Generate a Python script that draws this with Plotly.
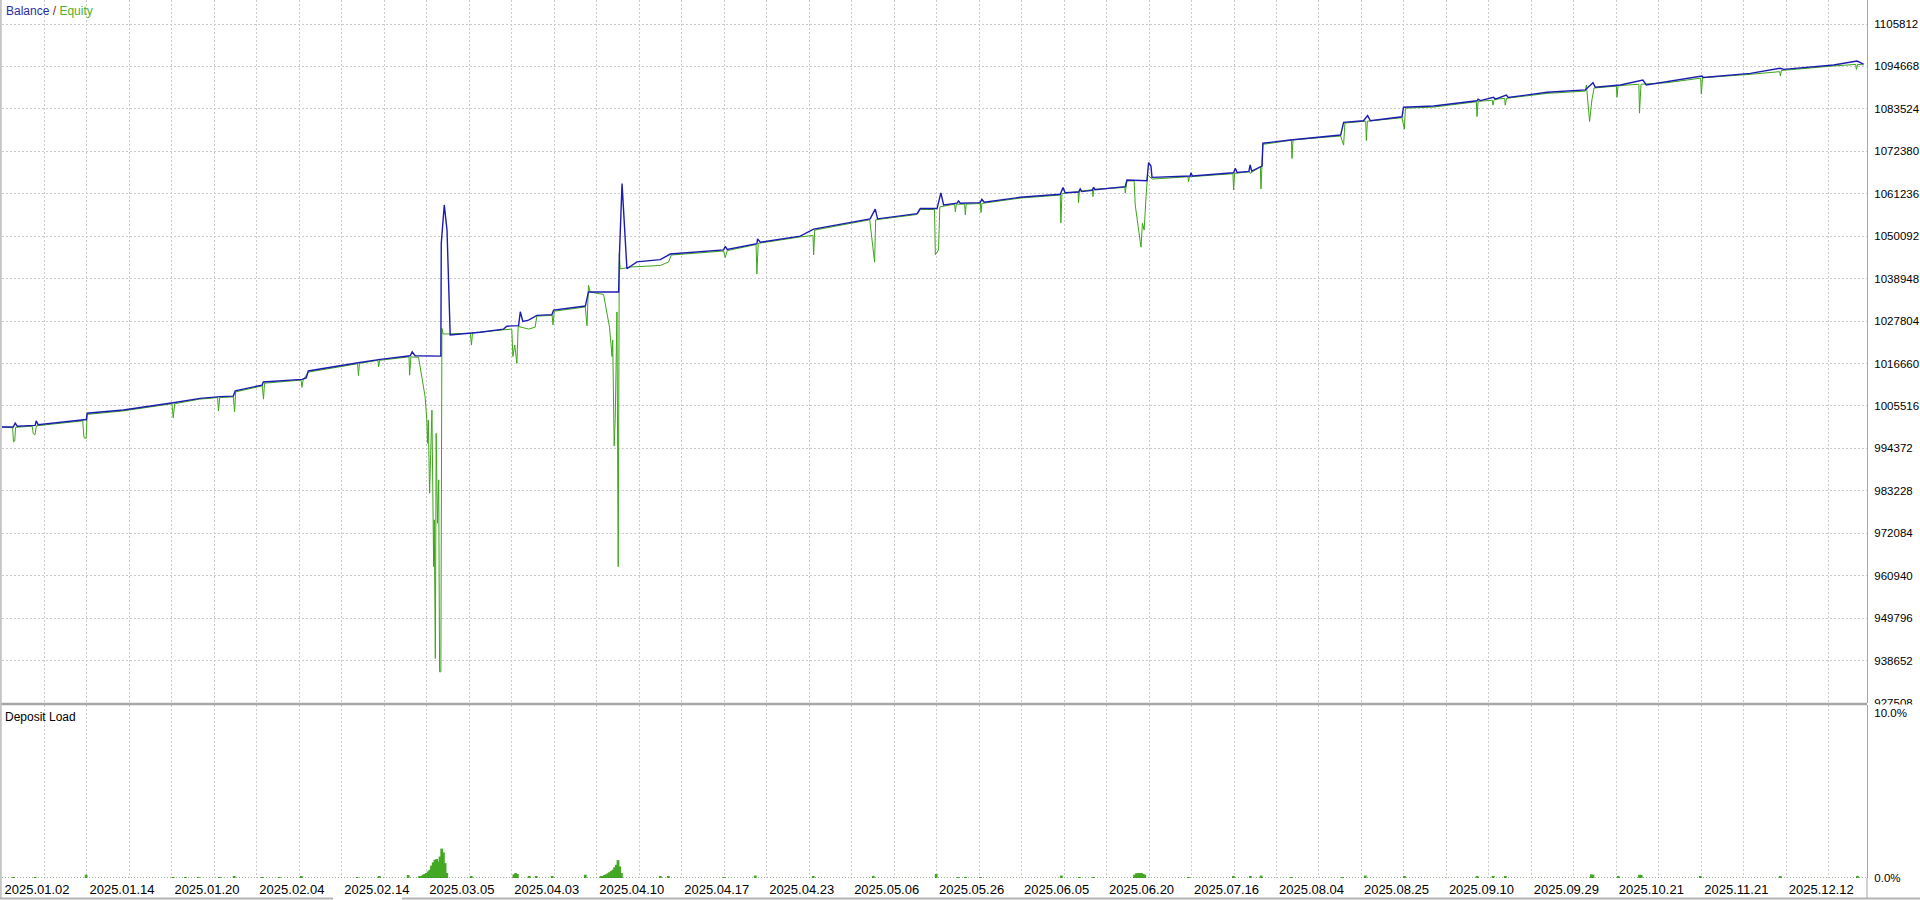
import plotly.graph_objects as go

# ---------------- data ----------------
# x axis = deal number (MT5 tester graph is deal-indexed); dates label every 40 deals
label_deals = [0, 40, 80, 120, 160, 200, 240, 280, 320, 360, 400, 440, 480, 520,
               560, 600, 640, 680, 720, 760, 800, 840]
date_labels = ["2025.01.02", "2025.01.14", "2025.01.20", "2025.02.04", "2025.02.14",
               "2025.03.05", "2025.04.03", "2025.04.10", "2025.04.17", "2025.04.23",
               "2025.05.06", "2025.05.26", "2025.06.05", "2025.06.20", "2025.07.16",
               "2025.08.04", "2025.08.25", "2025.09.10", "2025.09.29", "2025.10.21",
               "2025.11.21", "2025.12.12"]
grid_deals = [0, 20, 40, 60, 80, 100, 120, 140, 160, 180, 200, 220, 240, 260, 280, 300,
              320, 340, 360, 380, 400, 420, 440, 460, 480, 500, 520, 540, 560, 580, 600,
              620, 640, 660, 680, 700, 720, 740, 760, 780, 800, 820, 840, 860]

y_ticks = [927508, 938652, 949796, 960940, 972084, 983228, 994372, 1005516, 1016660,
           1027804, 1038948, 1050092, 1061236, 1072380, 1083524, 1094668, 1105812]

bal_deal = [0, 5.3, 6.2, 7.2, 15.6, 16.1, 17.0, 38.2, 39.7, 40.1, 57.1, 80.6, 93.3, 102.7,
            108.9, 109.8, 122.5, 123.0, 141.3, 143.2, 144.2, 167.7, 178.1, 192.2, 193.1,
            194.5, 206.6, 206.8, 207.9, 208.2, 209.5, 211.0, 225.1, 236.1, 237.7, 243.2,
            244.0, 245.2, 247.9, 251.8, 258.9, 259.7, 274.6, 276.1, 290.3, 290.7, 291.9,
            293.0, 294.2, 298.9, 309.9, 314.6, 339.7, 340.5, 341.4, 355.4, 355.7, 357.0,
            375.8, 382.1, 408.7, 411.1, 412.2, 430.8, 432.3, 440.2, 442.0, 443.3, 449.6,
            450.3, 451.1, 460.5, 461.3, 462.4, 479.4, 498.2, 499.5, 500.5, 506.8, 507.6,
            508.4, 513.2, 513.9, 514.6, 528.8, 529.6, 539.0, 539.8, 540.9, 541.4, 559.4,
            559.7, 560.4, 579.8, 580.6, 581.5, 587.0, 587.6, 588.3, 593.2, 593.6, 606.5,
            630.2, 631.6, 641.0, 642.9, 644.2, 659.1, 659.8, 674.0, 694.4, 694.9, 696.0,
            702.2, 703.0, 708.2, 709.1, 727.4, 745.4, 749.0, 750.1, 761.9, 772.5, 774.1,
            783.9, 800.3, 800.9, 823.1, 837.2, 838.8, 862.3, 873.3, 876.4]
bal_value = [1000000, 1000000, 1001000, 1000200, 1000400, 1001600, 1000600, 1001800,
             1001950, 1003600, 1004450, 1006350, 1007500, 1007950, 1008100, 1009500,
             1011000, 1011800, 1012500, 1012850, 1014700, 1016850, 1017750, 1018700,
             1019750, 1018700, 1018600, 1048200, 1057800, 1058300, 1051700, 1024150,
             1024850, 1025700, 1026450, 1026600, 1030250, 1027700, 1028050, 1029300,
             1029500, 1030700, 1031750, 1035450, 1035450, 1045600, 1063900, 1054650,
             1041550, 1043350, 1043950, 1045400, 1046500, 1047400, 1046600, 1048100,
             1049400, 1048500, 1050100, 1051950, 1054650, 1057200, 1054650, 1056000,
             1057350, 1057350, 1061450, 1058300, 1058750, 1059350, 1058750, 1058900,
             1059800, 1059000, 1060300, 1061100, 1062850, 1061500, 1061700, 1062500,
             1061800, 1062100, 1062900, 1062300, 1063100, 1064850, 1064650, 1069400,
             1068500, 1065550, 1065900, 1066750, 1065900, 1066750, 1067900, 1066800,
             1067100, 1068800, 1067200, 1068500, 1074500, 1075350, 1076650, 1080000,
             1080400, 1081750, 1080400, 1081450, 1083950, 1084300, 1085650, 1086050,
             1085700, 1086550, 1086100, 1087150, 1086500, 1087900, 1088500, 1090400,
             1089200, 1089800, 1091100, 1089800, 1090650, 1092150, 1091750, 1092850,
             1094200, 1093900, 1095050, 1096100, 1095300]

eq_deal = [0, 5.0, 5.4, 6.0, 6.4, 14.2, 14.7, 15.5, 16.2, 38.0, 38.6, 39.6, 40.1, 57.0,
           80.0, 80.6, 81.3, 93.0, 101.5, 101.9, 102.5, 108.9, 109.5, 110.0, 122.5, 123.1,
           123.6, 140.8, 141.2, 141.8, 144.2, 167.4, 167.8, 168.3, 177.0, 177.3, 177.8,
           191.6, 191.9, 192.5, 196.1, 197.2, 198.4, 199.2, 200.0, 200.3, 200.7, 201.3,
           202.4, 203.2, 203.5, 204.0, 204.4, 205.0, 205.6, 206.0, 206.6, 207.1, 207.7,
           220.5, 221.0, 221.5, 236.0, 240.0, 240.5, 241.4, 242.4, 243.0, 247.9, 251.0,
           251.8, 259.0, 259.4, 260.0, 274.6, 275.4, 276.1, 276.9, 283.2, 284.8, 286.0,
           287.2, 287.5, 288.2, 288.7, 289.5, 289.9, 290.1, 290.6, 291.0, 295.8, 309.9,
           313.8, 315.1, 339.7, 340.5, 341.4, 355.0, 355.4, 356.0, 375.8, 381.8, 382.1,
           382.6, 408.5, 410.8, 411.3, 430.8, 432.3, 439.0, 439.4, 440.9, 441.5, 448.5,
           448.8, 449.3, 453.2, 453.5, 453.9, 460.6, 460.9, 461.3, 479.4, 498.2, 498.5,
           499.0, 506.6, 506.8, 507.2, 513.4, 513.6, 514.0, 528.6, 528.8, 529.6, 533.0,
           533.5, 534.6, 535.4, 536.2, 536.9, 537.7, 538.6, 539.3, 541.5, 558.3, 558.6,
           559.0, 579.5, 579.8, 580.3, 587.3, 587.6, 592.4, 592.7, 593.6, 607.0, 607.3,
           607.8, 630.2, 631.6, 632.2, 642.0, 642.3, 642.8, 659.1, 660.2, 660.7, 674.0,
           694.1, 694.4, 694.9, 701.6, 701.9, 702.5, 707.4, 707.7, 708.3, 727.4, 745.4,
           745.9, 747.4, 748.5, 749.5, 760.0, 760.3, 760.8, 770.6, 770.9, 771.6, 783.9,
           799.7, 800.0, 800.6, 823.1, 836.9, 837.2, 837.7, 862.3, 872.7, 873.0, 873.6,
           876.4]
eq_value = [1000000, 999800, 996100, 996300, 999900, 1000200, 998300, 997900, 1000300,
            1001600, 997200, 997000, 1003300, 1004200, 1006100, 1002400, 1006100, 1007300,
            1007700, 1004200, 1007700, 1007900, 1004000, 1009200, 1010800, 1007300,
            1011500, 1012300, 1010400, 1012400, 1014400, 1016600, 1013500, 1016700,
            1017500, 1015800, 1017500, 1018400, 1013600, 1018400, 1018300, 1014500,
            1011500, 1007900, 1001800, 995700, 1001800, 982600, 1004400, 963300, 975600,
            939200, 998300, 974700, 986100, 935700, 935700, 1025900, 1024400, 1024600,
            1021500, 1024700, 1025500, 1025700, 1018500, 1021500, 1016700, 1026400,
            1025700, 1026200, 1029100, 1029300, 1026800, 1030400, 1031500, 1026600,
            1037200, 1035400, 1034800, 1029300, 1026200, 1018500, 1022800, 995000,
            1002200, 1030200, 993900, 963300, 1045600, 1041500, 1042000, 1042400,
            1043300, 1045150, 1046200, 1044500, 1046300, 1047900, 1040200, 1048200,
            1049900, 1050300, 1045200, 1051700, 1054400, 1043300, 1054400, 1055800,
            1057100, 1057100, 1045200, 1046500, 1057800, 1058500, 1056500, 1058500,
            1058500, 1055700, 1058500, 1058700, 1056300, 1058700, 1060100, 1060900,
            1053600, 1061300, 1061800, 1058900, 1061900, 1062300, 1060500, 1062400,
            1062900, 1061400, 1064600, 1064600, 1058300, 1053500, 1050900, 1047200,
            1053500, 1051700, 1060500, 1066200, 1065100, 1065700, 1064400, 1065700,
            1066500, 1062200, 1066600, 1067000, 1066600, 1068300, 1062500, 1074200,
            1075300, 1070500, 1075400, 1076400, 1074000, 1079800, 1080300, 1075200,
            1080300, 1081200, 1078200, 1083700, 1084000, 1085400, 1081500, 1085500,
            1085800, 1084500, 1086000, 1086300, 1084500, 1086300, 1087600, 1088200,
            1089800, 1080200, 1085900, 1089000, 1089500, 1086600, 1089600, 1090000,
            1082400, 1090000, 1090400, 1091600, 1087400, 1091700, 1092600, 1093300,
            1092200, 1093600, 1094800, 1095200, 1093900, 1095200, 1095100]

load_deal = [5.3, 15.6, 39.6, 80.6, 86.3, 92.4, 102.3, 109.3, 122.5, 130.5, 140.9, 167.2,
             177.6, 191.2, 196.6, 197.4, 198.2, 199.0, 199.8, 200.6, 201.4, 202.2, 203.0,
             203.8, 204.6, 205.4, 206.2, 207.0, 207.8, 208.6, 209.4, 220.9, 241.0, 241.8,
             242.6, 248.2, 251.5, 259.0, 274.6, 282.0, 282.8, 283.6, 284.4, 285.2, 286.0,
             286.8, 287.6, 288.4, 289.2, 290.0, 290.8, 291.6, 309.9, 313.7, 340.0, 354.6,
             381.9, 410.2, 439.8, 450.2, 453.5, 460.6, 498.7, 507.2, 513.8, 533.2, 534.0,
             534.8, 535.6, 536.4, 537.2, 538.0, 558.5, 579.7, 587.7, 592.8, 607.0, 631.0,
             641.8, 660.2, 694.5, 702.0, 707.7, 748.2, 749.0, 760.9, 770.9, 771.7, 799.5,
             837.2, 873.5]
load_pct = [0.06, 0.06, 0.2, 0.06, 0.06, 0.06, 0.06, 0.08, 0.06, 0.06, 0.08, 0.06, 0.08,
            0.18, 0.1, 0.12, 0.2, 0.25, 0.3, 0.4, 0.5, 0.75, 0.95, 1.1, 1.15, 1.0, 1.3,
            1.78, 1.55, 0.9, 0.3, 0.08, 0.22, 0.3, 0.25, 0.08, 0.08, 0.08, 0.2, 0.1, 0.12,
            0.18, 0.22, 0.28, 0.35, 0.42, 0.5, 0.65, 0.8, 1.08, 0.7, 0.3, 0.08, 0.08, 0.06,
            0.15, 0.1, 0.12, 0.25, 0.06, 0.06, 0.06, 0.15, 0.06, 0.06, 0.2, 0.28, 0.3, 0.3,
            0.3, 0.25, 0.2, 0.06, 0.12, 0.12, 0.15, 0.06, 0.06, 0.15, 0.08, 0.08, 0.08,
            0.08, 0.22, 0.2, 0.12, 0.2, 0.18, 0.12, 0.08, 0.08]

# ---------------- style ----------------
BAL = "#1c1cb0"
EQ = "#3da51a"
LOAD = "#44a824"
GRID = "#cccccc"
FRAME = "#a6a6a6"
FONT = "Liberation Sans, Arial, sans-serif"

W, H = 1920, 900
ML, MR, MT, MB = 2, 53, 0, 22
PW, PH = W - ML - MR, H - MT - MB
top_dom = [(PH - 703) / PH, 1.0]
bot_dom = [0.0, (PH - 705) / PH]

ticktext = []
for g in grid_deals:
    ticktext.append(date_labels[label_deals.index(g)] if g in label_deals else "")

fig = go.Figure()
fig.add_trace(go.Scatter(x=eq_deal, y=eq_value, mode="lines", line=dict(color=EQ, width=1),
                         xaxis="x", yaxis="y", hoverinfo="skip"))
fig.add_trace(go.Scatter(x=bal_deal, y=bal_value, mode="lines", line=dict(color=BAL, width=1.4),
                         xaxis="x", yaxis="y", hoverinfo="skip"))
fig.add_trace(go.Bar(x=load_deal, y=load_pct, width=1.3, marker=dict(color=LOAD, line=dict(width=0)),
                     xaxis="x2", yaxis="y2", hoverinfo="skip"))

xcommon = dict(range=[0, 878], tickmode="array", tickvals=grid_deals, showgrid=True,
               gridcolor=GRID, griddash="2px,2px", gridwidth=1, zeroline=False,
               showline=False, ticks="", fixedrange=True)

fig.update_layout(
    width=W, height=H, margin=dict(l=ML, r=MR, t=MT, b=MB, autoexpand=False),
    paper_bgcolor="white", plot_bgcolor="white", showlegend=False, barmode="overlay",
    font=dict(family=FONT, size=12, color="#000000"),
    xaxis=dict(**xcommon, anchor="y", domain=[0, 1], showticklabels=False),
    xaxis2=dict(**xcommon, anchor="y2", domain=[0, 1], matches="x", ticktext=ticktext,
                showticklabels=True, ticklabelshift=35, ticklabelstandoff=2,
                tickfont=dict(family=FONT, size=13, color="#000000")),
    yaxis=dict(domain=top_dom, range=[927508, 1112116], side="right", tickmode="array",
               tickvals=y_ticks, ticktext=[str(v) for v in y_ticks], showgrid=True,
               gridcolor=GRID, griddash="2px,2px", gridwidth=1, zeroline=False,
               showline=True, linecolor=FRAME, linewidth=1, ticks="", ticklabelstandoff=4,
               tickfont=dict(family=FONT, size=11.5, color="#000000"), fixedrange=True),
    yaxis2=dict(domain=bot_dom, range=[0, 10.485], side="right", tickmode="array",
                tickvals=[0, 10], ticktext=["0.0%", "10.0%"], showgrid=False,
                zeroline=False, showline=True, linecolor=FRAME, linewidth=1, ticks="",
                ticklabelstandoff=4, tickfont=dict(family=FONT, size=11.5, color="#000000"),
                fixedrange=True),
)

def py(px):
    return (PH - px) / PH

def pxx(px):
    return (px - ML) / PW

shapes = [
    # hide lower half of the clipped 927508 label
    dict(type="rect", xref="paper", yref="paper", x0=pxx(1868), x1=pxx(1920), y0=py(708),
         y1=py(704.5), fillcolor="white", line=dict(width=0), layer="above"),
    # panel separator
    dict(type="line", xref="paper", yref="paper", x0=pxx(0), x1=pxx(1867), y0=py(704),
         y1=py(704), line=dict(color=FRAME, width=2.5), layer="above"),
    # left frame
    dict(type="line", xref="paper", yref="paper", x0=pxx(0.8), x1=pxx(0.8), y0=py(0),
         y1=py(899), line=dict(color="#c4c4c4", width=2), layer="above"),
    # right axis extension down through the date row
    dict(type="line", xref="paper", yref="paper", x0=pxx(1867), x1=pxx(1867), y0=py(878),
         y1=py(899), line=dict(color=FRAME, width=1), layer="above"),
    # bottom frame (with scrollbar gap)
    dict(type="line", xref="paper", yref="paper", x0=pxx(0), x1=pxx(333), y0=py(898.5),
         y1=py(898.5), line=dict(color="#b4b4b4", width=2), layer="above"),
    dict(type="line", xref="paper", yref="paper", x0=pxx(402), x1=pxx(1920), y0=py(898.5),
         y1=py(898.5), line=dict(color="#b4b4b4", width=2), layer="above"),
    # dotted zero line of deposit load
    dict(type="line", xref="x2 domain", yref="y2", x0=0, x1=1, y0=0, y1=0,
         line=dict(color="#3a6a2a", width=1, dash="1px,2px"), layer="above"),
]
fig.update_layout(shapes=shapes)

fig.add_annotation(xref="paper", yref="paper", x=pxx(4), y=py(2), xanchor="left", yanchor="top",
                   showarrow=False, align="left",
                   text=f"<span style='color:#2b2ba8'>Balance</span>"
                        f"<span style='color:#6a2a2a'> / </span>"
                        f"<span style='color:#4fb02a'>Equity</span>",
                   font=dict(family=FONT, size=12))
fig.add_annotation(xref="paper", yref="paper", x=pxx(3), y=py(708), xanchor="left", yanchor="top",
                   showarrow=False, align="left", text="Deposit Load",
                   font=dict(family=FONT, size=12, color="#000000"))

fig.write_html("out.html", config={"displayModeBar": False},
               post_script="document.body.style.margin='0';document.body.style.padding='0';")
